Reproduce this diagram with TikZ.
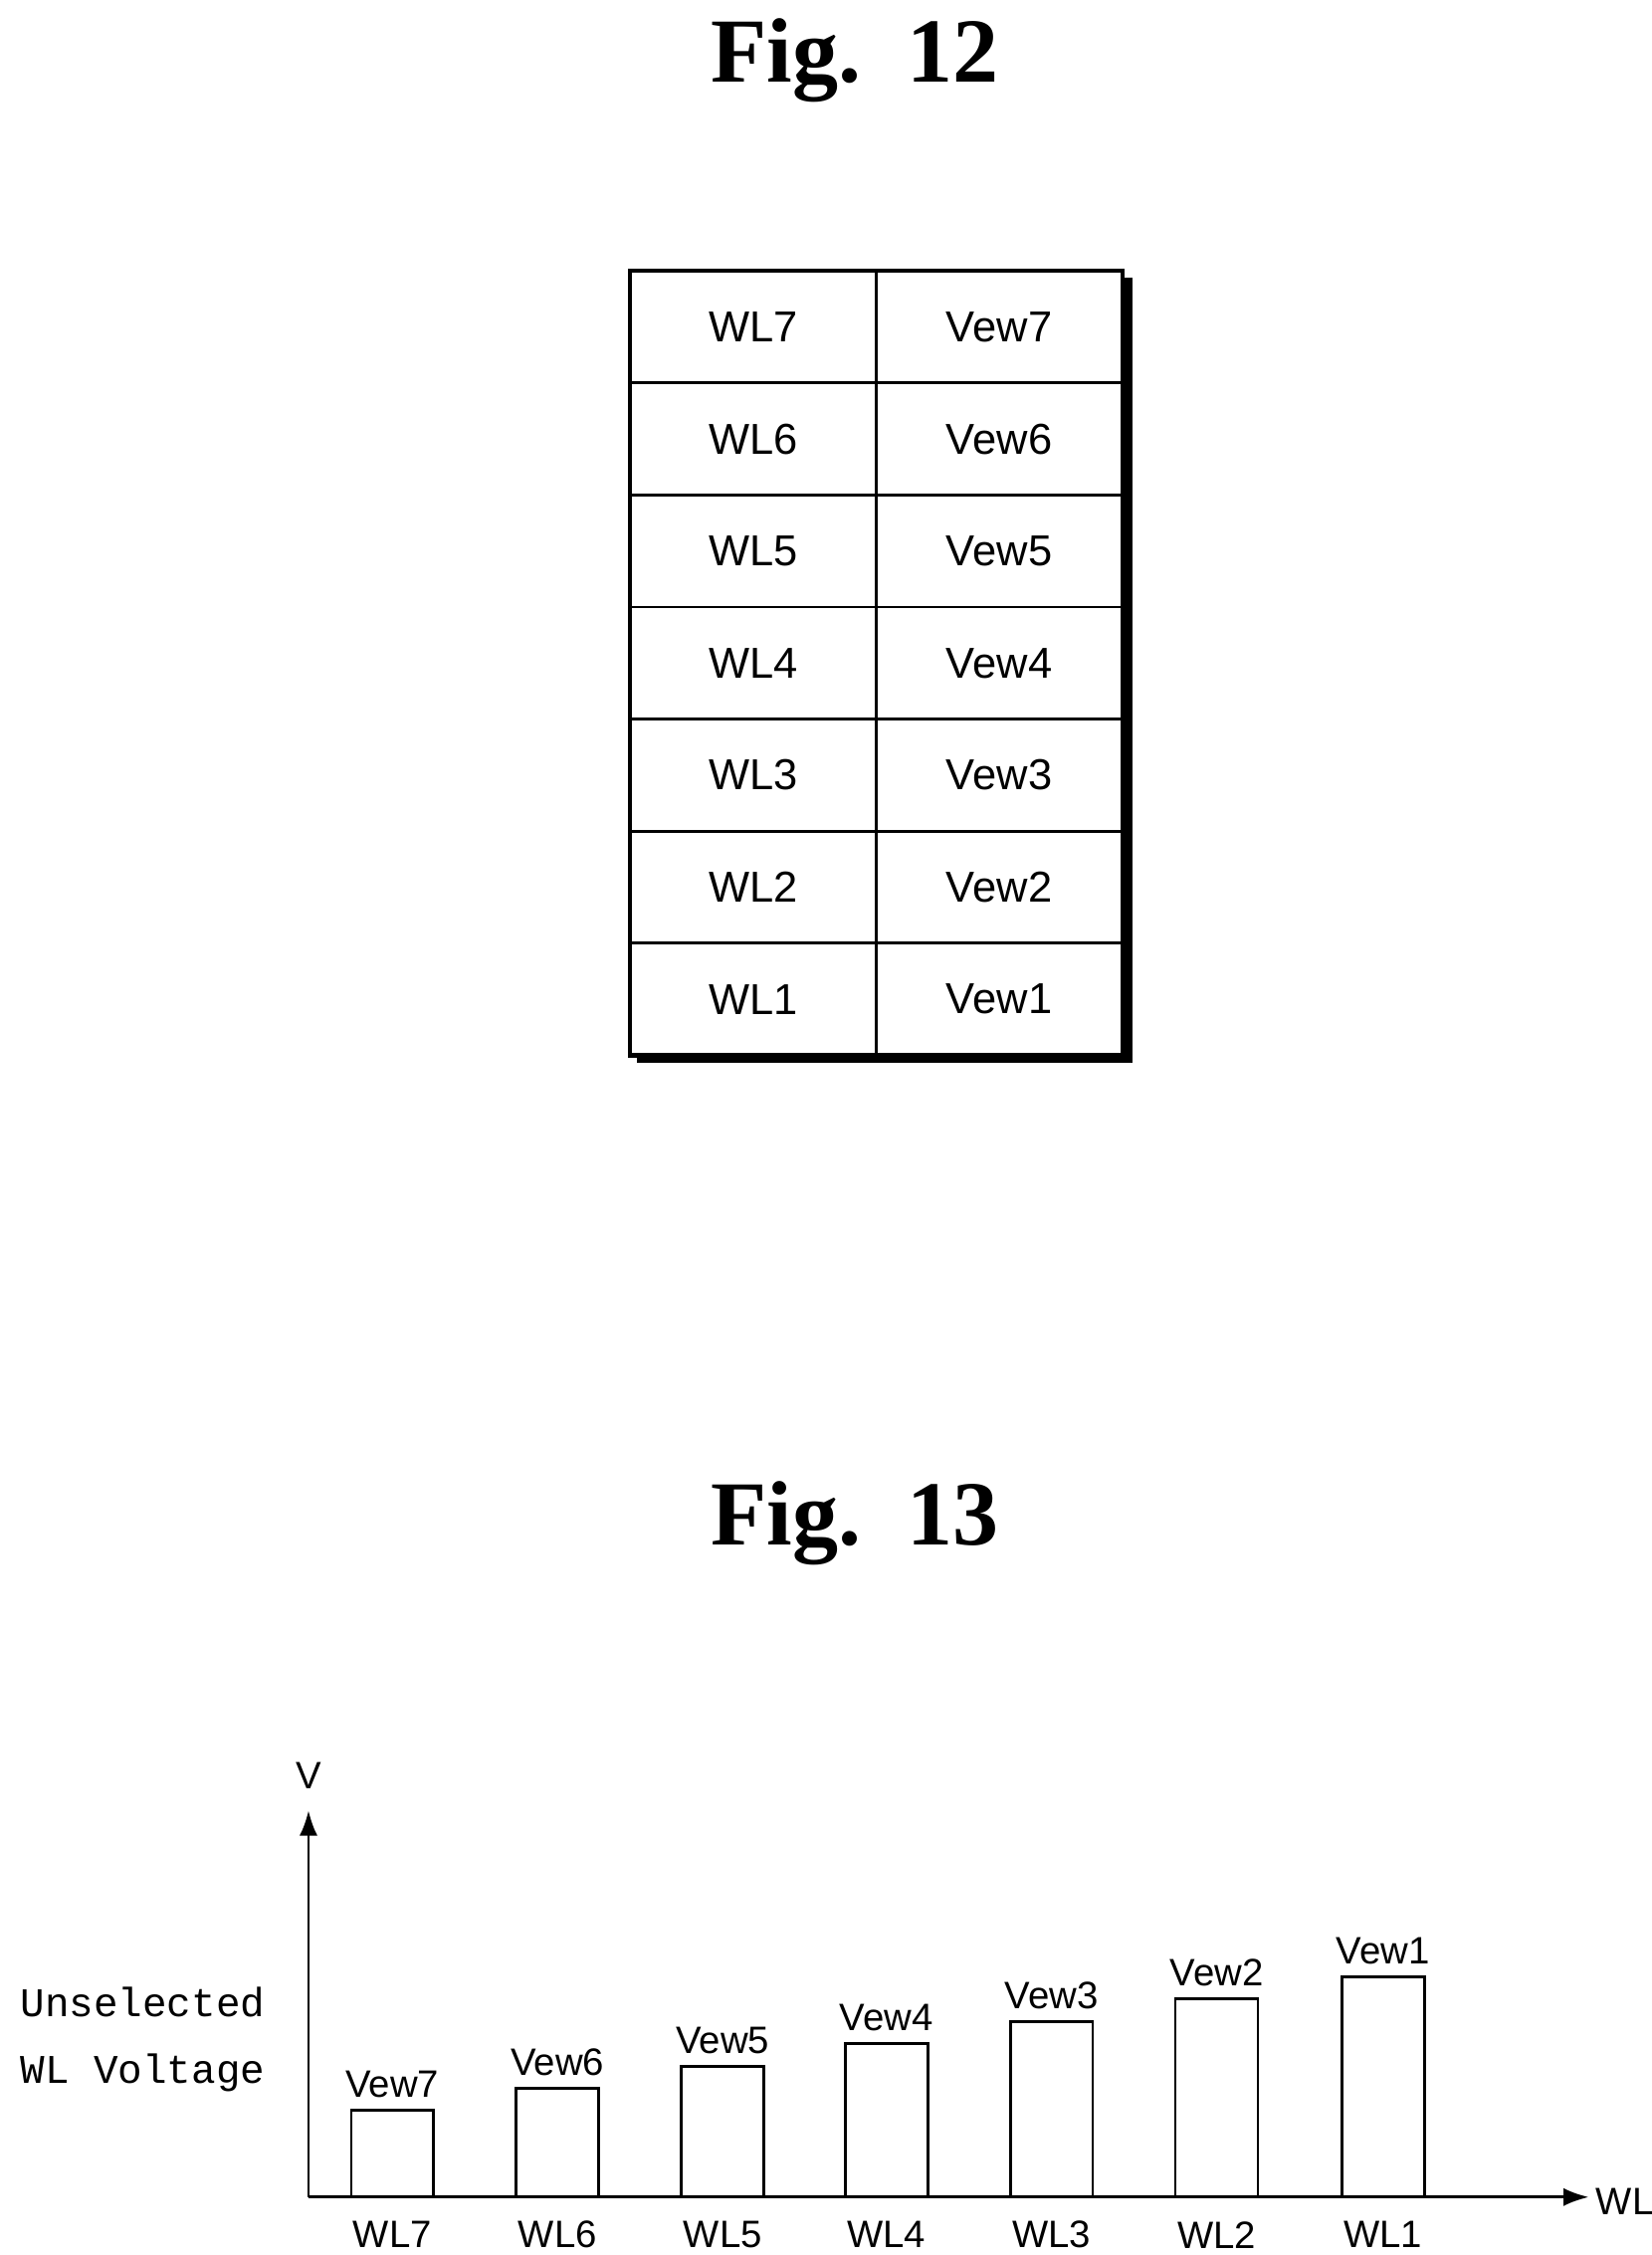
\documentclass[tikz,border=0pt]{standalone}
\usepackage{fontspec}
\setmainfont{Liberation Sans}
\newfontfamily\figfont{Liberation Serif}
\newfontfamily\monofont{Liberation Mono}
\usetikzlibrary{positioning,arrows.meta}
\begin{document}
\begin{tikzpicture}
[
x=0.02cm, y=-0.02cm,
cell-a/.style={draw, line width=1.1pt, minimum width=3.4cm, minimum height=1.548cm, inner sep=0pt, outer sep=0pt, font=\fontsize{17}{20}\selectfont},
text-a/.style={black, font=\fontsize{15}{18}\selectfont},
title-a/.style={black, font=\figfont\bfseries\fontsize{36}{40}\selectfont},
bar-a/.style={draw, line width=1.1pt, minimum width=1.14cm, inner sep=0pt, outer sep=0pt, anchor=south}
]
\useasboundingbox (0,0) rectangle (1140,1557);
\node (fig-12) [title-a] at (590,42)   {Fig.~~12};
\node (fig-13) [title-a] at (590,1052) {Fig.~~13};
% table with shadow
\fill (440,192) rectangle (782,734);
\node (cell-71) [cell-a, fill=white, anchor=north west] at (435,187) {WL7};
\node (cell-72) [cell-a, fill=white, right = 0mm of cell-71] {Vew7};
\foreach \r/\p in {6/7,5/6,4/5,3/4,2/3,1/2}{
  \node (cell-\r1) [cell-a, fill=white, below = 0mm of cell-\p1] {WL\r};
  \node (cell-\r2) [cell-a, fill=white, below = 0mm of cell-\p2] {Vew\r};
}
\draw[line width=1.6pt] (cell-71.north west) rectangle (cell-12.south east);
% chart
\coordinate (origin) at (213,1517);
\coordinate (y-end)  at (213,1250);
\coordinate (x-end)  at (1097,1517);
\draw[line width=1.1pt, -{Latex[length=3.5mm,width=2.5mm]}] (origin) -- (y-end);
\draw[line width=1.1pt, -{Latex[length=3.5mm,width=2.5mm]}] (origin) -- (x-end);
\node (V-lab)  [text-a] at (213,1226) {V};
\node (WL-lab) [text-a, anchor=west, inner sep=1pt] at (1100,1520) {WL};
\node (unsel) [black, font=\monofont\fontsize{16}{26}\selectfont, align=left, anchor=west] at (8,1408) {Unselected\\WL Voltage};
\foreach \i/\x/\t in {7/271/1457,6/385/1442,5/499/1427,4/612/1411,3/726/1396,2/840/1380,1/955/1365}{
  \node (bar-\i) [bar-a, minimum height={(1517-\t)*0.02cm}] at (\x,1517) {};
  \node (vew-\i) [text-a, above = 0.5mm of bar-\i] {Vew\i};
  \node (wl-\i)  [text-a] at (\x,1543) {WL\i};
}
\end{tikzpicture}
\end{document}
